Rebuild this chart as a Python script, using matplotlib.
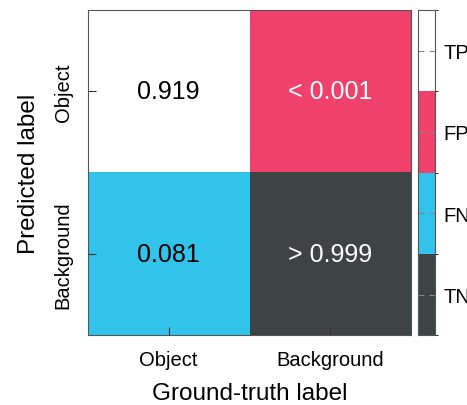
import matplotlib
matplotlib.use("Agg")
import matplotlib.pyplot as plt
from matplotlib.colors import ListedColormap, BoundaryNorm
import numpy as np

plt.rcParams['font.family'] = ['Liberation Sans', 'DejaVu Sans']

# confusion matrix data (rows = predicted, cols = ground truth)
classes = ["Object", "Background"]
cell_text = [["0.919", "< 0.001"], ["0.081", "> 0.999"]]
# category codes: TN=0, FN=1, FP=2, TP=3
cell_kind = np.array([[3, 2], [1, 0]])
kind_labels = ["TN", "FN", "FP", "TP"]
kind_colors = ["#3e4346", "#32c3ea", "#ef416b", "#ffffff"]
text_colors = {0: "white", 1: "black", 2: "white", 3: "black"}

cmap = ListedColormap(kind_colors)
norm = BoundaryNorm(np.arange(-0.5, 4.5, 1), cmap.N)

fig = plt.figure(figsize=(4.67, 4.06), dpi=100)
ax = fig.add_axes([0.188, 0.172, 0.692, 0.801])
cax = fig.add_axes([0.895, 0.172, 0.036, 0.801])

im = ax.imshow(cell_kind, cmap=cmap, norm=norm, aspect='auto')

for i in range(2):
    for j in range(2):
        ax.text(j, i, cell_text[i][j], ha='center', va='center', fontsize=18,
                color=text_colors[cell_kind[i, j]])

ax.set_xticks(range(2))
ax.set_xticklabels(classes, fontsize=14.5)
ax.set_yticks(range(2))
ax.set_yticklabels(classes, fontsize=14.5, rotation=90, va='center')
ax.tick_params(direction='in', length=6, color='#333333', pad=11)
ax.set_xlabel("Ground-truth label", fontsize=17.5, labelpad=9)
ax.set_ylabel("Predicted label", fontsize=17.5, labelpad=10)
for s in ax.spines.values():
    s.set_color('#555555')

cb = fig.colorbar(im, cax=cax, ticks=range(4))
cb.set_ticklabels(kind_labels)
cb.ax.tick_params(direction='in', left=True, right=True, length=4,
                  color='#888888', labelsize=14.5, pad=6.5)
cb.outline.set_edgecolor('#555555')

fig.savefig("out.png", dpi=100)
